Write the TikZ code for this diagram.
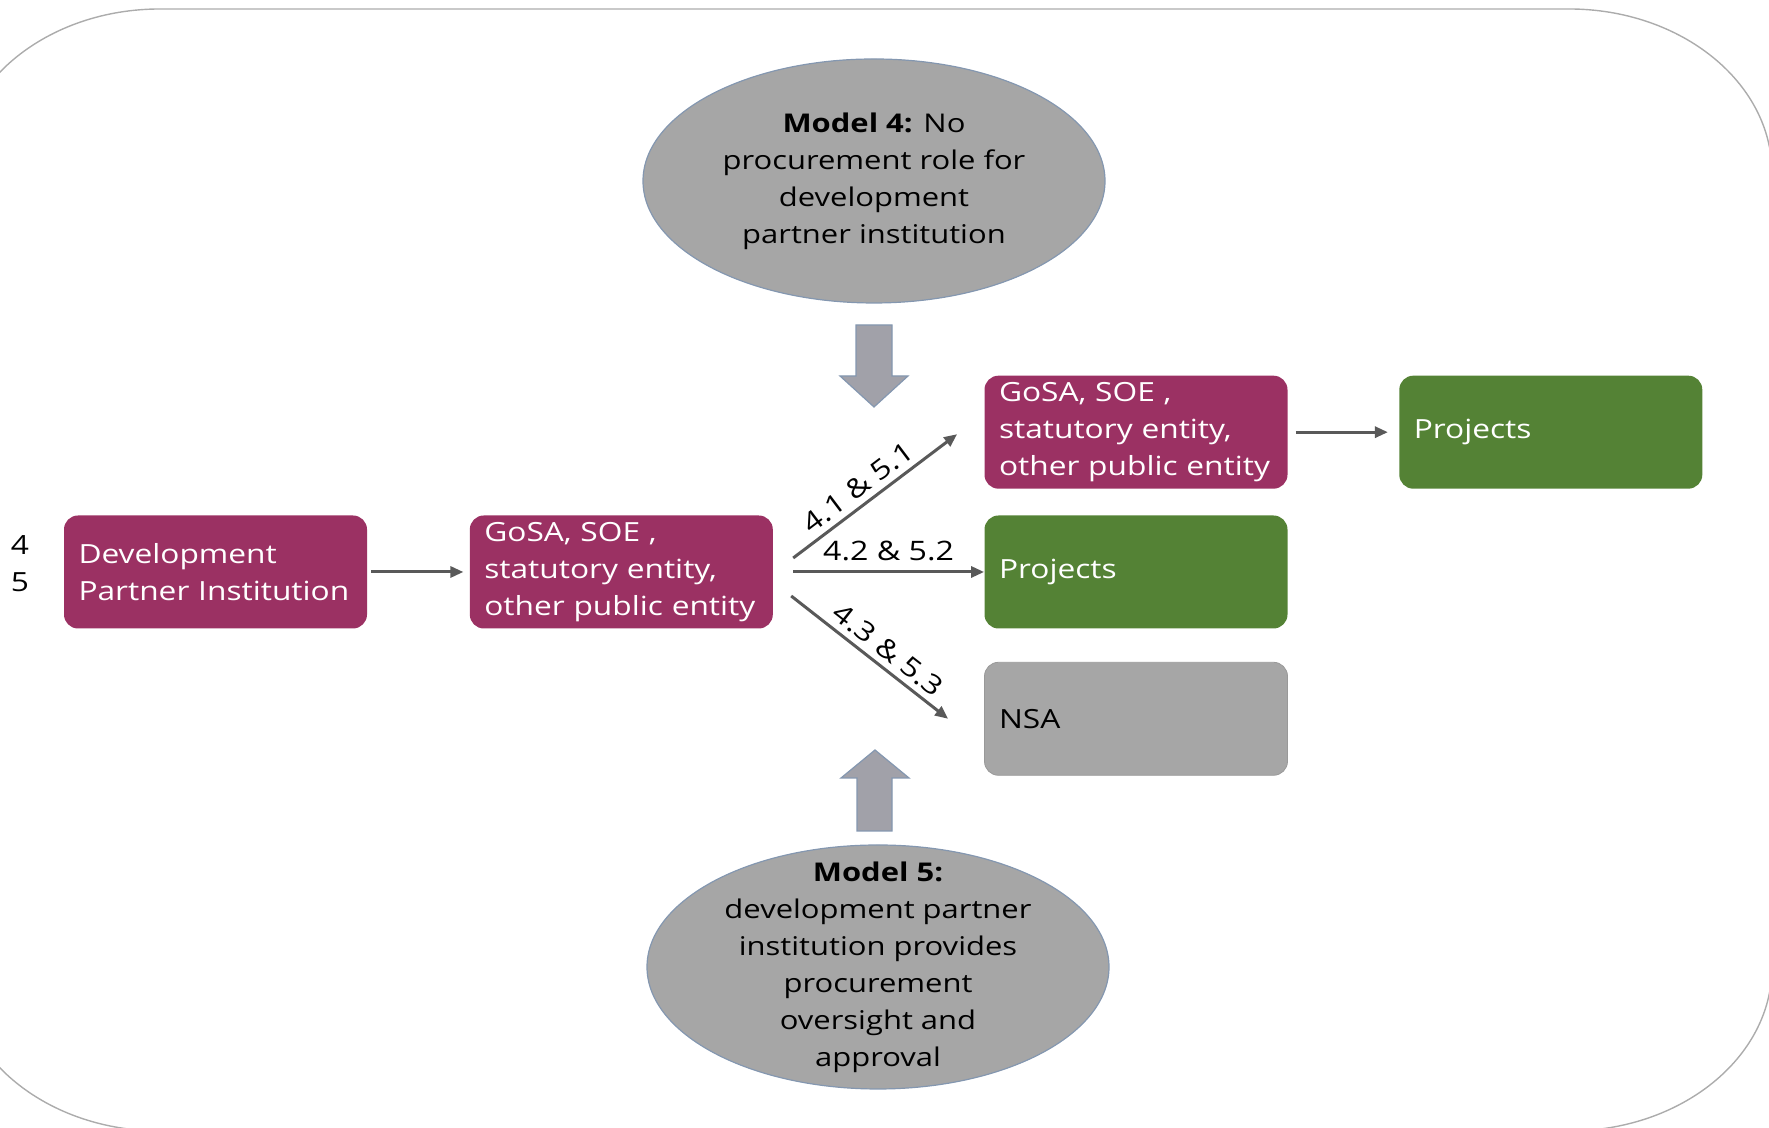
\documentclass[tikz,border=0pt]{standalone}
\usepackage{fontspec}
\setmainfont{Open Sans}[FakeStretch=1.2]
\usetikzlibrary{arrows.meta,positioning,shapes.geometric}

\definecolor{plum}{RGB}{155,49,99}
\definecolor{leaf}{RGB}{84,130,53}
\definecolor{slate}{RGB}{166,166,166}
\definecolor{rim}{RGB}{132,151,176}
\definecolor{wire}{RGB}{89,89,89}

\tikzset{
  box/.style={rectangle, rounded corners=7pt, minimum width=151.5pt, minimum height=56.5pt,
    text width=137pt, inner xsep=7.25pt, inner ysep=0pt, align=left,
    font=\fontsize{13.2}{18.5}\selectfont},
  entity/.style={box, fill=plum, text=white},
  output/.style={box, fill=leaf, text=white},
  nsabox/.style={box, fill=slate, draw=gray!80, line width=0.4pt, text=black},
  model/.style={ellipse, fill=slate, draw=rim, line width=0.6pt,
    minimum width=231pt, minimum height=122pt, inner sep=0pt},
  modeltext/.style={align=center, font=\fontsize{12.9}{18.5}\selectfont},
  flow/.style={draw=wire, line width=1.5pt, -{Triangle[length=6.5pt,width=5.5pt]}},
  fat/.style={fill=slate!97!blue, draw=rim, line width=0.6pt},
  tag/.style={font=\fontsize{13.4}{16}\selectfont, inner sep=1pt}
}

\begin{document}
\begin{tikzpicture}[x=0.5pt,y=0.5pt]
  \path[use as bounding box] (0,0) rectangle (1769,1128);
  % outer frame
  \draw[gray!65, line width=0.7pt]
    (-43,955) arc[start angle=180, end angle=90, x radius=101.5pt, y radius=82pt]
    -- (1569,1119) arc[start angle=90, end angle=0, x radius=101.5pt, y radius=82pt]
    -- (1772,161) arc[start angle=0, end angle=-90, x radius=101.5pt, y radius=82pt]
    -- (160,-3) arc[start angle=270, end angle=180, x radius=101.5pt, y radius=82pt] -- cycle;

  % boxes
  \node[entity]                        (dpi)   at (215.5,556) {Development\\Partner Institution};
  \node[entity, right=51pt of dpi]     (gosaL) {GoSA, SOE ,\\statutory entity,\\other public entity};
  \node[output]                        (projM) at (1136,556) {Projects};
  \node[entity, above=13pt of projM]   (gosaT) {GoSA, SOE ,\\statutory entity,\\other public entity};
  \node[output, right=55.5pt of gosaT] (projT) {Projects};
  \node[nsabox, below=16.5pt of projM] (nsa)   {NSA};
  \node[font=\fontsize{13.2}{18.5}\selectfont, align=center] (nums) at (20,564) {4\\5};

  % models
  \node[model] (m4) at (874,947) {};
  \node[modeltext] (m4text) at (m4.center) {\textbf{Model 4:} No\\procurement role for\\development\\partner institution};
  \node[model] (m5) at (878,161) {};
  \node[modeltext] (m5text) at (m5.center) {\textbf{Model 5:}\\development partner\\institution provides\\procurement\\oversight and\\approval};

  % block arrows
  \draw[fat] (856,803) -- (892,803) -- (892,752) -- (908,752) -- (874,721) -- (840,752) -- (856,752) -- cycle;
  \draw[fat] (857,297) -- (892,297) -- (892,350) -- (909,350) -- (875,378) -- (841,350) -- (857,350) -- cycle;

  % flows
  \draw[flow, shorten <=2pt, shorten >=3pt] (dpi) -- (gosaL);
  \draw[flow, shorten <=4pt, shorten >=5.5pt] (gosaT) -- (projT);
  \draw[flow] ([xshift=10pt,yshift=7pt]gosaL.east)
    -- node[tag, sloped, above=2pt, pos=0.46] {4.1 \& 5.1} ([xshift=-13.5pt,yshift=-1pt]gosaT.west);
  \draw[flow] ([xshift=10pt]gosaL.east) -- node[tag, above=4pt] {4.2 \& 5.2} (projM.west);
  \draw[flow] ([xshift=9pt,yshift=-12pt]gosaL.east)
    -- node[tag, sloped, above=2pt, pos=0.55] {4.3 \& 5.3} ([xshift=-18pt]nsa.west);
\end{tikzpicture}
\end{document}
